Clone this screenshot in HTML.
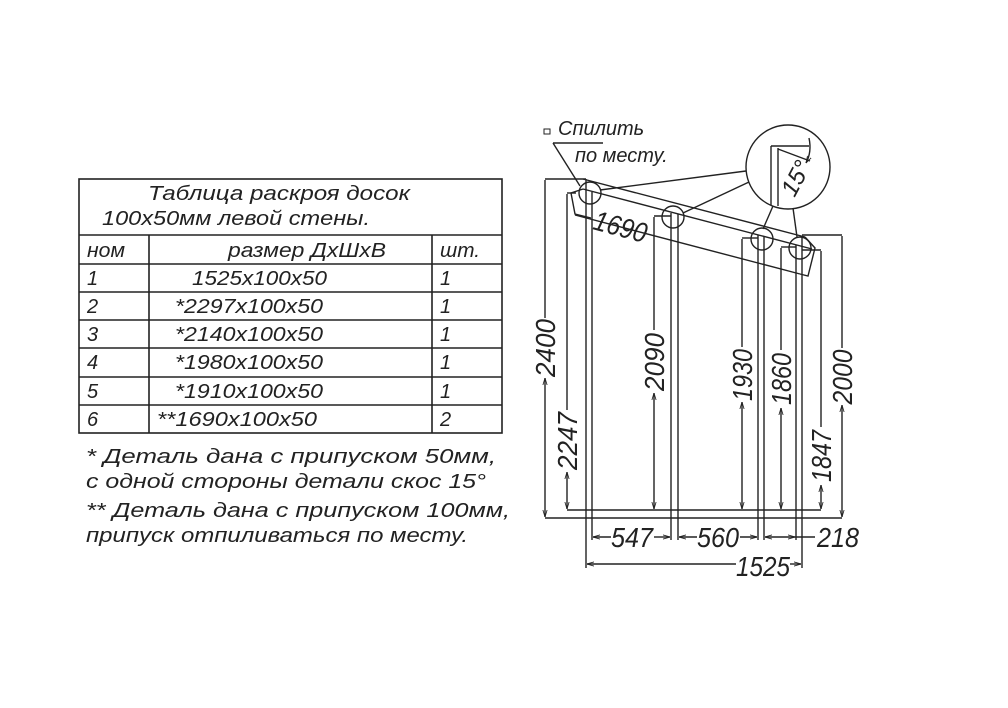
<!DOCTYPE html>
<html><head><meta charset="utf-8"><style>
html,body{margin:0;padding:0;background:#fff;}
svg{display:block;}
text{font-family:"Liberation Sans","DejaVu Sans",sans-serif;font-style:italic;fill:#222;}
</style></head><body>
<svg width="1008" height="708" viewBox="0 0 1008 708" xmlns="http://www.w3.org/2000/svg">
<defs>
<marker id="a" viewBox="0 0 10 10" refX="10" refY="5" markerWidth="7" markerHeight="7" orient="auto-start-reverse" markerUnits="userSpaceOnUse"><path d="M0,2 L10,5 L0,8" fill="none" stroke="#222" stroke-width="1.2"/></marker>
</defs>
<g stroke="#222" stroke-width="1.6" fill="none">
<rect x="79" y="179" width="423" height="254"/>
<line x1="79" y1="235" x2="502" y2="235"/>
<line x1="79" y1="264" x2="502" y2="264"/>
<line x1="79" y1="292" x2="502" y2="292"/>
<line x1="79" y1="320" x2="502" y2="320"/>
<line x1="79" y1="348" x2="502" y2="348"/>
<line x1="79" y1="377" x2="502" y2="377"/>
<line x1="79" y1="405" x2="502" y2="405"/>
<line x1="149" y1="235" x2="149" y2="433"/>
<line x1="432" y1="235" x2="432" y2="433"/>
</g>
<g font-size="20">
<text x="148" y="200" textLength="262" lengthAdjust="spacingAndGlyphs">Таблица  раскроя  досок</text>
<text x="102" y="225" textLength="268" lengthAdjust="spacingAndGlyphs">100x50мм  левой  стены.</text>
<text x="87" y="257" textLength="38" lengthAdjust="spacingAndGlyphs">ном</text>
<text x="228" y="257" textLength="158" lengthAdjust="spacingAndGlyphs">размер  ДхШхВ</text>
<text x="440" y="257" textLength="40" lengthAdjust="spacingAndGlyphs">шт.</text>
<text x="87" y="285">1</text><text x="192" y="285" textLength="135" lengthAdjust="spacingAndGlyphs">1525x100x50</text><text x="440" y="285">1</text>
<text x="87" y="313">2</text><text x="175" y="313" textLength="148" lengthAdjust="spacingAndGlyphs">*2297x100x50</text><text x="440" y="313">1</text>
<text x="87" y="341">3</text><text x="175" y="341" textLength="148" lengthAdjust="spacingAndGlyphs">*2140x100x50</text><text x="440" y="341">1</text>
<text x="87" y="369">4</text><text x="175" y="369" textLength="148" lengthAdjust="spacingAndGlyphs">*1980x100x50</text><text x="440" y="369">1</text>
<text x="87" y="398">5</text><text x="175" y="398" textLength="148" lengthAdjust="spacingAndGlyphs">*1910x100x50</text><text x="440" y="398">1</text>
<text x="87" y="426">6</text><text x="157" y="426" textLength="160" lengthAdjust="spacingAndGlyphs">**1690x100x50</text><text x="440" y="426">2</text>
<text x="86" y="463" textLength="410" lengthAdjust="spacingAndGlyphs">*  Деталь  дана  с  припуском  50мм,</text>
<text x="86" y="488" textLength="400" lengthAdjust="spacingAndGlyphs">с  одной  стороны  детали  скос  15°</text>
<text x="86" y="517" textLength="424" lengthAdjust="spacingAndGlyphs">**  Деталь  дана  с  припуском  100мм,</text>
<text x="86" y="542" textLength="382" lengthAdjust="spacingAndGlyphs">припуск  отпиливаться  по  месту.</text>
</g>

<g stroke="#222" stroke-width="1.4" fill="none">
<line x1="586" y1="179" x2="586" y2="568"/><line x1="592" y1="192" x2="592" y2="540"/>
<line x1="671" y1="213" x2="671" y2="540"/><line x1="678" y1="214" x2="678" y2="540"/>
<line x1="758" y1="235" x2="758" y2="540"/><line x1="764" y1="237" x2="764" y2="540"/>
<line x1="796" y1="245" x2="796" y2="540"/><line x1="802" y1="236" x2="802" y2="568"/>
<line x1="583" y1="179" x2="805" y2="237"/>
<line x1="583" y1="189" x2="812" y2="249"/>
<polyline points="583,189 571,193 575,214 591,218"/>
<polyline points="805,237 815,248 808,276 800,274"/>
<line x1="575" y1="215" x2="800" y2="274"/>
<line x1="545" y1="179" x2="586" y2="179"/>
<line x1="567" y1="193" x2="576" y2="193"/>
<line x1="654" y1="216" x2="671" y2="216"/>
<line x1="742" y1="238" x2="758" y2="238"/>
<line x1="781" y1="247" x2="796" y2="247"/>
<line x1="802" y1="250" x2="821" y2="250"/>
<line x1="802" y1="235" x2="842" y2="235"/>
<line x1="545" y1="518" x2="842" y2="518"/>
<line x1="567" y1="510" x2="821" y2="510"/>
<line x1="545" y1="180" x2="545" y2="318"/><line x1="545" y1="378" x2="545" y2="517" marker-start="url(#a)" marker-end="url(#a)"/>
<line x1="567" y1="194" x2="567" y2="410"/><line x1="567" y1="472" x2="567" y2="509" marker-start="url(#a)" marker-end="url(#a)"/>
<line x1="654" y1="217" x2="654" y2="330"/><line x1="654" y1="393" x2="654" y2="509" marker-start="url(#a)" marker-end="url(#a)"/>
<line x1="742" y1="239" x2="742" y2="347"/><line x1="742" y1="402" x2="742" y2="509" marker-start="url(#a)" marker-end="url(#a)"/>
<line x1="781" y1="248" x2="781" y2="350"/><line x1="781" y1="408" x2="781" y2="509" marker-start="url(#a)" marker-end="url(#a)"/>
<line x1="821" y1="251" x2="821" y2="427"/><line x1="821" y1="485" x2="821" y2="509" marker-start="url(#a)" marker-end="url(#a)"/>
<line x1="842" y1="236" x2="842" y2="348"/><line x1="842" y1="405" x2="842" y2="517" marker-start="url(#a)" marker-end="url(#a)"/>
<line x1="593" y1="537" x2="611" y2="537" marker-start="url(#a)"/><line x1="654" y1="537" x2="670" y2="537" marker-end="url(#a)"/>
<line x1="679" y1="537" x2="697" y2="537" marker-start="url(#a)"/><line x1="740" y1="537" x2="757" y2="537" marker-end="url(#a)"/>
<line x1="765" y1="537" x2="795" y2="537" marker-start="url(#a)" marker-end="url(#a)"/><line x1="795" y1="537" x2="815" y2="537"/>
<line x1="587" y1="564" x2="736" y2="564" marker-start="url(#a)"/><line x1="790" y1="564" x2="801" y2="564" marker-end="url(#a)"/>
<circle cx="590" cy="193" r="11"/>
<circle cx="673" cy="217" r="11"/>
<circle cx="762" cy="239" r="11"/>
<circle cx="800" cy="248" r="11"/>
<circle cx="788" cy="167" r="42"/>
<line x1="746" y1="171" x2="600" y2="190"/>
<line x1="749" y1="182" x2="683" y2="213"/>
<line x1="773" y1="206" x2="763" y2="229"/>
<line x1="793" y1="208" x2="797" y2="237"/>
<line x1="771" y1="146" x2="771" y2="205"/>
<line x1="778" y1="148" x2="778" y2="206"/>
<line x1="771" y1="146" x2="809" y2="146"/>
<line x1="778" y1="149" x2="810" y2="161"/>
<path d="M809,138 Q812,152 806,163" marker-end="url(#a)"/>
<line x1="553" y1="143" x2="580" y2="186"/>
<line x1="553" y1="143" x2="603" y2="143"/>
</g>
<rect x="544" y="129" width="6" height="5" fill="none" stroke="#222" stroke-width="1"/>
<g font-size="20">
<text x="558" y="135">Спилить</text>
<text x="575" y="162">по  месту.</text>
</g>
<g font-size="28">
<text transform="translate(555,348) rotate(-90)" text-anchor="middle" textLength="58" lengthAdjust="spacingAndGlyphs">2400</text>
<text transform="translate(577,441) rotate(-90)" text-anchor="middle" textLength="58" lengthAdjust="spacingAndGlyphs">2247</text>
<text transform="translate(664,362) rotate(-90)" text-anchor="middle" textLength="58" lengthAdjust="spacingAndGlyphs">2090</text>
<text transform="translate(752,375) rotate(-90)" text-anchor="middle" textLength="52" lengthAdjust="spacingAndGlyphs">1930</text>
<text transform="translate(791,379) rotate(-90)" text-anchor="middle" textLength="52" lengthAdjust="spacingAndGlyphs">1860</text>
<text transform="translate(831,456) rotate(-90)" text-anchor="middle" textLength="52" lengthAdjust="spacingAndGlyphs">1847</text>
<text transform="translate(852,377) rotate(-90)" text-anchor="middle" textLength="55" lengthAdjust="spacingAndGlyphs">2000</text>
<text x="632" y="547" text-anchor="middle" textLength="42" lengthAdjust="spacingAndGlyphs">547</text>
<text x="718" y="547" text-anchor="middle" textLength="42" lengthAdjust="spacingAndGlyphs">560</text>
<text x="838" y="547" text-anchor="middle" textLength="42" lengthAdjust="spacingAndGlyphs">218</text>
<text x="763" y="576" text-anchor="middle" textLength="54" lengthAdjust="spacingAndGlyphs">1525</text>
<text transform="translate(618,236) rotate(15)" text-anchor="middle" textLength="54" lengthAdjust="spacingAndGlyphs">1690</text>
<text transform="translate(803,182) rotate(-62)" text-anchor="middle" font-size="24">15°</text>
</g>
</svg>
</body></html>
